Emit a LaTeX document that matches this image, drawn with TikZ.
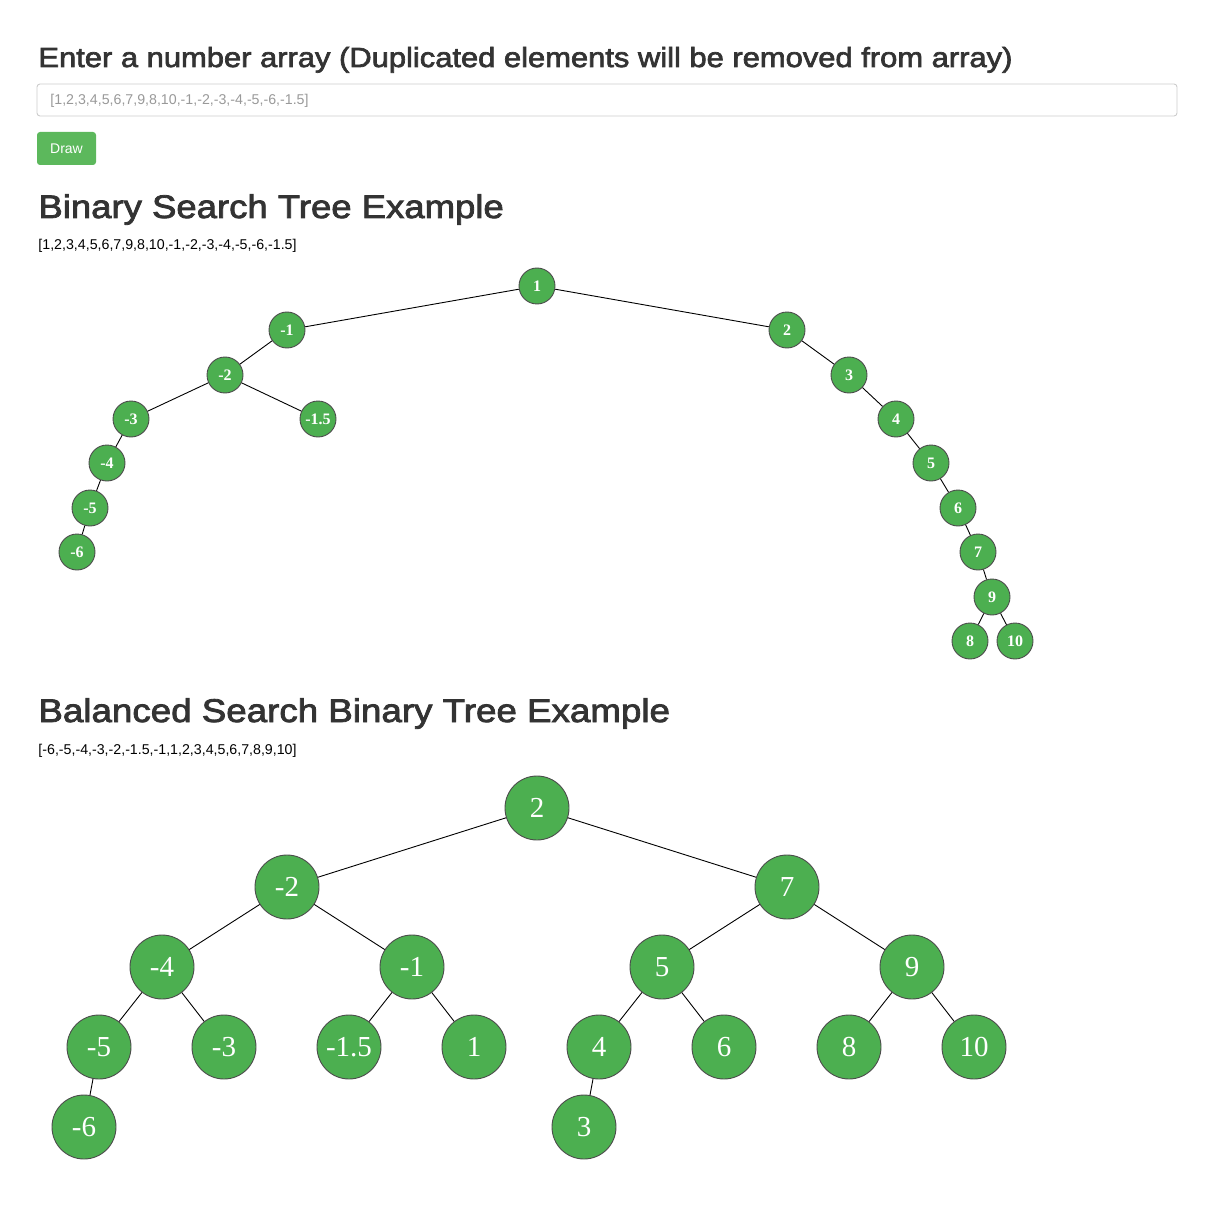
\documentclass[tikz,border=0pt]{standalone}
\usepackage{fontspec}
\usepackage{xcolor}
\setmainfont{Liberation Serif}
\newfontfamily\headfont{Liberation Sans}
\newfontfamily\titlefont[FakeBold=2.5, FakeStretch=1.12]{Liberation Sans}
\definecolor{nodegreen}{HTML}{4CAF50}
\definecolor{btngreen}{HTML}{5CB85C}
\definecolor{headgray}{HTML}{333333}
\definecolor{boxgray}{HTML}{CCCCCC}
\definecolor{holdgray}{HTML}{999999}
\tikzset{
  small/.style={circle, draw=black!70, fill=nodegreen, text=white, minimum size=36pt, inner sep=0pt, font=\fontsize{16}{16}\selectfont\bfseries},
  big/.style={circle, draw=black!70, fill=nodegreen, text=white, minimum size=64pt, inner sep=0pt, font=\fontsize{29}{29}\selectfont},
  heading/.style={anchor=base west, inner sep=0pt, text=headgray},
  plain/.style={anchor=base west, inner sep=0pt, font=\headfont\fontsize{14.2}{14.2}\selectfont}
}
\begin{document}
\begin{tikzpicture}[x=1pt, y=-1pt, line width=0.9pt]
    \useasboundingbox (0,0) rectangle (1214,1214);

    % form at the top
    \node (ask) [heading, font=\titlefont\fontsize{27.6}{27.6}\selectfont] at (38,67) {Enter a number array (Duplicated elements will be removed from array)};
    \draw[boxgray, rounded corners=3pt] (37,84) rectangle (1177,116);
    \node (hold) [plain, text=holdgray] at (50,105) {[1,2,3,4,5,6,7,9,8,10,-1,-2,-3,-4,-5,-6,-1.5]};
    \node (draw) [fill=btngreen, rounded corners=3pt, minimum width=59pt, minimum height=33pt, text=white, font=\headfont\fontsize{14}{14}\selectfont] at (66.5,148.5) {Draw};

    % binary search tree
    \node (bsthead) [heading, font=\titlefont\fontsize{32.6}{32.6}\selectfont] at (38,218) {Binary Search Tree Example};
    \node (bstlist) [plain] at (38,250) {[1,2,3,4,5,6,7,9,8,10,-1,-2,-3,-4,-5,-6,-1.5]};

    \node (t1) [small] at (537,286) {1};
    \node (tm1) [small] at (287,330) {-1};
    \node (t2) [small] at (787,330) {2};
    \node (tm2) [small] at (225,375) {-2};
    \node (t3) [small] at (849,375) {3};
    \node (tm3) [small] at (131,419) {-3};
    \node (tm15) [small] at (318,419) {-1.5};
    \node (t4) [small] at (896,419) {4};
    \node (tm4) [small] at (107,463) {-4};
    \node (t5) [small] at (931,463) {5};
    \node (tm5) [small] at (90,508) {-5};
    \node (t6) [small] at (958,508) {6};
    \node (tm6) [small] at (77,552) {-6};
    \node (t7) [small] at (978,552) {7};
    \node (t9) [small] at (992,597) {9};
    \node (t8) [small] at (970,641) {8};
    \node (t10) [small] at (1015,641) {10};

    % balanced tree
    \node (avlhead) [heading, font=\titlefont\fontsize{32.8}{32.8}\selectfont] at (38,722) {Balanced Search Binary Tree Example};
    \node (avllist) [plain] at (38,754) {[-6,-5,-4,-3,-2,-1.5,-1,1,2,3,4,5,6,7,8,9,10]};

    \node (b2) [big] at (537,808) {2};
    \node (bm2) [big] at (287,887) {-2};
    \node (b7) [big] at (787,887) {7};
    \node (bm4) [big] at (162,967) {-4};
    \node (bm1) [big] at (412,967) {-1};
    \node (b5) [big] at (662,967) {5};
    \node (b9) [big] at (912,967) {9};
    \node (bm5) [big] at (99,1047) {-5};
    \node (bm3) [big] at (224,1047) {-3};
    \node (bm15) [big] at (349,1047) {-1.5};
    \node (b1) [big] at (474,1047) {1};
    \node (b4) [big] at (599,1047) {4};
    \node (b6) [big] at (724,1047) {6};
    \node (b8) [big] at (849,1047) {8};
    \node (b10) [big] at (974,1047) {10};
    \node (bm6) [big] at (84,1127) {-6};
    \node (b3) [big] at (584,1127) {3};

    % edges
    \draw (t1) -- (tm1);
    \draw (t1) -- (t2);
    \draw (tm1) -- (tm2);
    \draw (tm2) -- (tm3);
    \draw (tm2) -- (tm15);
    \draw (tm3) -- (tm4);
    \draw (tm4) -- (tm5);
    \draw (tm5) -- (tm6);
    \draw (t2) -- (t3);
    \draw (t3) -- (t4);
    \draw (t4) -- (t5);
    \draw (t5) -- (t6);
    \draw (t6) -- (t7);
    \draw (t7) -- (t9);
    \draw (t9) -- (t8);
    \draw (t9) -- (t10);

    \draw (b2) -- (bm2);
    \draw (b2) -- (b7);
    \draw (bm2) -- (bm4);
    \draw (bm2) -- (bm1);
    \draw (bm4) -- (bm5);
    \draw (bm4) -- (bm3);
    \draw (bm5) -- (bm6);
    \draw (bm1) -- (bm15);
    \draw (bm1) -- (b1);
    \draw (b7) -- (b5);
    \draw (b7) -- (b9);
    \draw (b5) -- (b4);
    \draw (b5) -- (b6);
    \draw (b4) -- (b3);
    \draw (b9) -- (b8);
    \draw (b9) -- (b10);
\end{tikzpicture}
\end{document}
